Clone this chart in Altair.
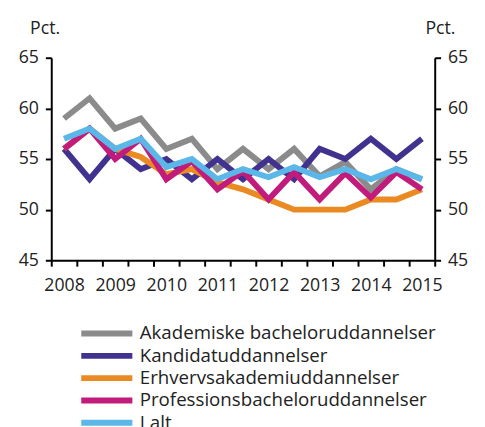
import altair as alt
import pandas as pd

periods = [2008 + 0.5 * i for i in range(15)]
series_names = [
    "Akademiske bacheloruddannelser",
    "Kandidatuddannelser",
    "Erhvervsakademiuddannelser",
    "Professionsbacheloruddannelser",
    "I alt",
]
akademiske = [59, 61, 58, 59, 56, 57, 54, 56, 54, 56, 53.3, 54.7, 52, 54, 53]
kandidat = [56, 53, 56, 54, 55, 53, 55, 53, 55, 53, 56, 55, 57, 55, 57]
erhverv = [56, 58, 56, 55.2, 53.5, 54, 52.7, 52, 51, 50, 50, 50, 51, 51, 52]
professions = [56, 58, 55, 57, 53, 54.8, 52, 53.8, 51, 53.7, 51, 53.6, 51.2, 53.7, 52]
i_alt = [57, 58, 56, 57, 54.2, 55, 53, 54, 53.2, 54.2, 53.2, 54, 53, 54, 53]
colors = ["#8b8b8b", "#41328f", "#ea8a22", "#c11b7c", "#5bb7e8"]

rows = []
for name, vals in zip(series_names, [akademiske, kandidat, erhverv, professions, i_alt]):
    for p, v in zip(periods, vals):
        rows.append({"t": p, "v": v, "serie": name})
df = pd.DataFrame(rows)

FONT = "Open Sans"
FS = 18
tick_vals = [2007.75 + 0.5 * k for k in range(16)]

x = alt.X(
    "t:Q",
    scale=alt.Scale(domain=[2007.75, 2015.25], nice=False, zero=False),
    axis=alt.Axis(
        values=tick_vals,
        labelExpr="(datum.value + 0.25) % 1 == 0 ? format(datum.value + 0.25, 'd') : ''",
        labelOffset=13,
        labelFlush=False,
        labelOverlap=False,
        labelBound=False,
        grid=False,
        title=None,
        tickSize=6,
        labelPadding=11,
    ),
)
yscale = alt.Scale(domain=[45, 65], nice=False, zero=False)

lines = alt.Chart(df).mark_line(strokeWidth=6, strokeCap="butt", strokeJoin="miter").encode(
    x=x,
    y=alt.Y(
        "v:Q",
        scale=yscale,
        axis=alt.Axis(
            values=[45, 50, 55, 60, 65],
            orient="left",
            grid=False,
            title="Pct.",
            titleAngle=0,
            titleAlign="left",
            titleBaseline="alphabetic",
            titleX=-22,
            titleY=-25,
            titleFontWeight="normal",
            titleFont=FONT,
            titleFontSize=FS,
            tickSize=6,
            labelPadding=7,
        ),
    ),
    color=alt.Color(
        "serie:N",
        scale=alt.Scale(domain=series_names, range=colors),
        sort=series_names,
        legend=alt.Legend(
            title=None,
            orient="none",
            legendX=47,
            legendY=271,
            symbolType="M-5,0H5",
            symbolSize=108,
            symbolStrokeWidth=6,
            symbolFillColor="transparent",
            labelFont=FONT,
            labelFontSize=19,
            labelOffset=24,
            rowPadding=-2.3,
            labelLimit=400,
        ),
    ),
    order=alt.Order("serie_order:Q"),
).transform_calculate(
    serie_order="indexof(" + str(series_names) + ", datum.serie)"
)

right = alt.Chart(df).mark_line(opacity=0).encode(
    x=x,
    y=alt.Y(
        "v:Q",
        scale=yscale,
        axis=alt.Axis(
            values=[45, 50, 55, 60, 65],
            orient="right",
            grid=False,
            title="Pct.",
            titleAngle=0,
            titleAlign="left",
            titleBaseline="alphabetic",
            titleX=-10,
            titleY=-25,
            titleFontWeight="normal",
            titleFont=FONT,
            titleFontSize=FS,
            tickSize=6,
            labelPadding=7,
        ),
    ),
    detail="serie:N",
)

chart = (
    alt.layer(lines, right)
    .resolve_scale(y="shared")
    .resolve_axis(y="independent")
    .properties(
        width=390,
        height=206,
        autosize=alt.AutoSizeParams(type="none"),
        padding={"left": 44, "top": 47, "right": 43, "bottom": 166},
    )
    .configure_axis(
        labelFont=FONT,
        labelFontSize=FS,
        labelColor="#222222",
        domainColor="#000000",
        tickColor="#000000",
        domainWidth=2,
        tickWidth=2,
        titleColor="#222222",
    )
    .configure_legend(labelColor="#222222")
    .configure_view(stroke=None)
)

chart.save("out.html", embed_options={"renderer": "svg", "actions": False})
